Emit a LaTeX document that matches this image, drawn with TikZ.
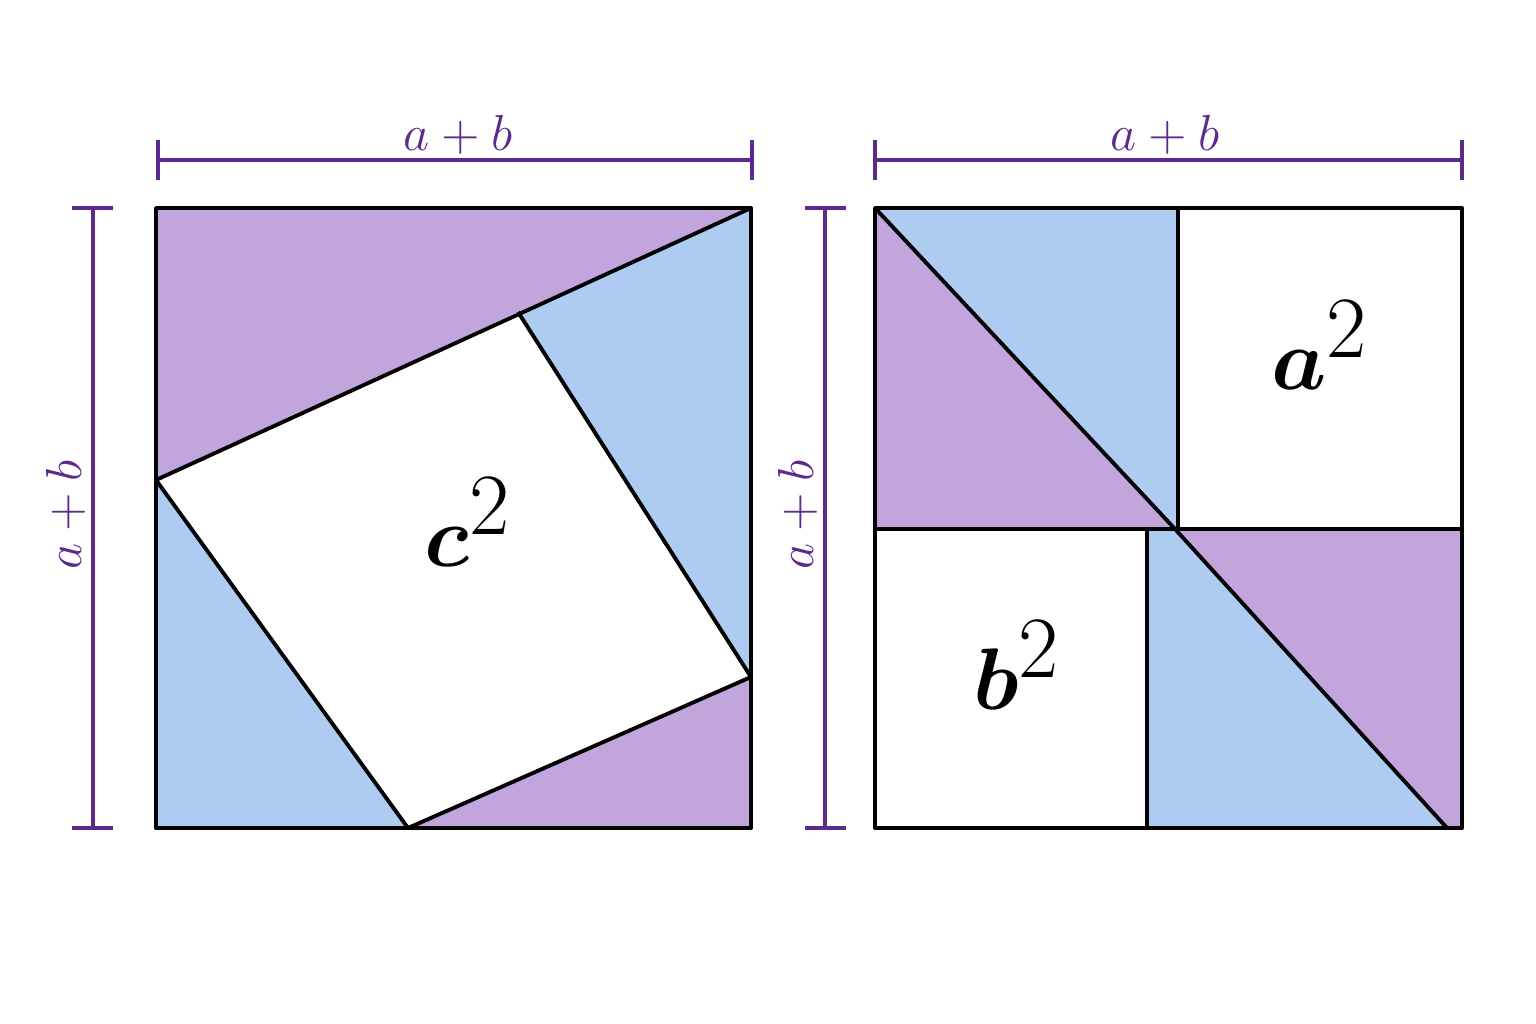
\documentclass[tikz,border=0pt]{standalone}
\usepackage{bm}
\definecolor{lila}{HTML}{C3A5DD}
\definecolor{himmel}{HTML}{AECBF2}
\definecolor{dimpurple}{HTML}{5B2A8C}
\tikzset{
  piece/.style={draw=black,line width=1.1pt,line join=round},
  dimline/.style={draw=dimpurple,line width=0.9pt},
  dimlabel/.style={text=dimpurple,font=\fontsize{14}{14}\selectfont},
  arealabel/.style={font=\fontsize{38}{38}\selectfont}
}
\begin{document}
\begin{tikzpicture}[x=0.01cm,y=-0.01cm]
  \useasboundingbox (0,0) rectangle (1536,1024);
  % left square
  \coordinate (A) at (156,208);
  \coordinate (B) at (751,208);
  \coordinate (C) at (751,828);
  \coordinate (D) at (156,828);
  \coordinate (P) at (518,312);
  \coordinate (Q) at (751,677);
  \coordinate (R) at (408,828);
  \coordinate (S) at (156,480);
  \fill[lila] (A)--(B)--(P)--(S)--cycle;
  \fill[himmel] (P)--(B)--(Q)--cycle;
  \fill[lila] (Q)--(C)--(R)--cycle;
  \fill[himmel] (S)--(R)--(D)--cycle;
  \draw[piece] (A)--(B)--(C)--(D)--cycle;
  \draw[piece] (S)--(B) (P)--(Q) (Q)--(R) (R)--(S);
  \node[arealabel,font=\fontsize{44}{44}\selectfont] (csq) at (468,522) {$\bm{c}^2$};
  % right square
  \coordinate (E) at (875,208);
  \coordinate (F) at (1462,208);
  \coordinate (G) at (1462,828);
  \coordinate (H) at (875,828);
  \coordinate (M) at (1175,529);
  \coordinate (K) at (1447,828);
  \fill[himmel] (E)--(1178,208)--(1178,529)--(M)--cycle;
  \fill[lila] (E)--(M)--(875,529)--cycle;
  \fill[lila] (M)--(1462,529)--(G)--(K)--cycle;
  \fill[himmel] (1147,529)--(M)--(K)--(1147,828)--cycle;
  \draw[piece] (E)--(F)--(G)--(H)--cycle;
  \draw[piece] (875,529)--(1462,529) (1178,208)--(1178,529) (1147,529)--(1147,828);
  \draw[piece] (E)--(M)--(K);
  \node[arealabel] (asq) at (1320,345) {$\bm{a}^2$};
  \node[arealabel] (bsq) at (1017,665) {$\bm{b}^2$};
  % dimensions
  \draw[dimline] (158,160)--(752,160) (158,140)--(158,180) (752,140)--(752,180);
  \node[dimlabel] (topL) at (458,135) {$a+b$};
  \draw[dimline] (875,160)--(1462,160) (875,140)--(875,180) (1462,140)--(1462,180);
  \node[dimlabel] (topR) at (1165,135) {$a+b$};
  \draw[dimline] (93,208)--(93,828) (72,208)--(113,208) (72,828)--(113,828);
  \node[dimlabel,rotate=90] (sideL) at (66,515) {$a+b$};
  \draw[dimline] (825,208)--(825,828) (805,208)--(846,208) (805,828)--(846,828);
  \node[dimlabel,rotate=90] (sideR) at (798,515) {$a+b$};
\end{tikzpicture}
\end{document}
